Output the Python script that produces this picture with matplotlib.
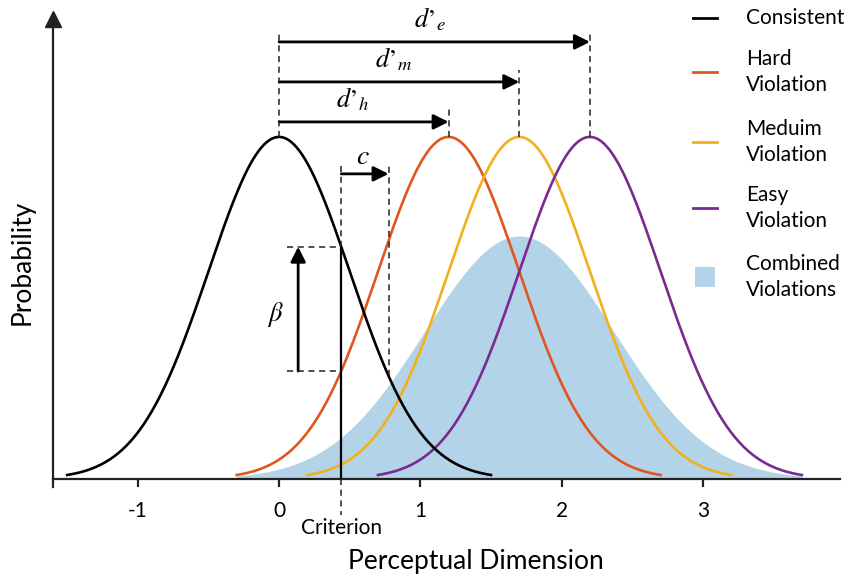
import numpy as np
import matplotlib
matplotlib.use("Agg")
import matplotlib.pyplot as plt
from matplotlib.lines import Line2D
from matplotlib.patches import Rectangle

plt.rcParams["font.family"] = ["Lato", "DejaVu Sans"]
plt.rcParams["mathtext.fontset"] = "stix"

# model parameters
SIGMA = 0.5
MU_CONSISTENT = 0.0
MU_VIOL = [1.2, 1.7, 2.2]          # hard, medium, easy
VIOL_LABELS = ["Hard\nViolation", "Meduim\nViolation", "Easy\nViolation"]
VIOL_COLORS = ["#E0561E", "#F2B01C", "#7B2B8F"]
D_LABELS = [r"$d’_{h}$", r"$d’_{m}$", r"$d’_{e}$"]
COMB_MU, COMB_SIGMA, COMB_PEAK = 1.7, 0.67, 0.71
CRITERION = 0.44
C_END = 0.775
XTICKS = [-1, 0, 1, 2, 3]
BLUE = "#B3D3E9"


def gauss(x, mu, sigma=SIGMA, peak=1.0):
    return peak * np.exp(-(x - mu) ** 2 / (2 * sigma ** 2))


def main() -> None:
    fig = plt.figure(figsize=(8.46, 5.75), dpi=100)
    ax = fig.add_axes([53 / 846, 88 / 575, 787 / 846, 468 / 575])
    xmin, xmax = -1.60, 3.97
    ax.set_xlim(xmin, xmax)
    ax.set_ylim(-0.024, 1.345)

    # combined violations
    xc = np.linspace(-0.3, 3.7, 500)
    ax.fill_between(xc, 0, gauss(xc, COMB_MU, COMB_SIGMA, COMB_PEAK),
                    color=BLUE, lw=0, zorder=1)

    for mu, col in zip(MU_VIOL, VIOL_COLORS):
        xs = np.linspace(mu - 1.5, mu + 1.5, 300)
        ax.plot(xs, gauss(xs, mu), color=col, lw=1.9, zorder=3)
    xs = np.linspace(MU_CONSISTENT - 1.5, MU_CONSISTENT + 1.5, 300)
    ax.plot(xs, gauss(xs, MU_CONSISTENT), color="black", lw=1.9, zorder=4)

    # spines / axes
    for s in ["top", "right"]:
        ax.spines[s].set_visible(False)
    ax.spines["bottom"].set_position(("data", 0))
    for s in ["bottom", "left"]:
        ax.spines[s].set_linewidth(1.6)
        ax.spines[s].set_color("#222222")
    ax.set_yticks([])
    ax.set_xticks(XTICKS)
    ax.set_xticklabels([str(t) for t in XTICKS])
    ax.tick_params(axis="x", direction="out", length=6, width=1.6, pad=10,
                   labelsize=15, color="#222222")
    ax.plot([xmin], [1.345], marker="^", ms=11, color="#222222", clip_on=False,
            zorder=6)

    dash = dict(color="#222222", lw=1.1, ls=(0, (4, 3)), zorder=5)
    arrow = dict(arrowstyle="-|>,head_length=0.9,head_width=0.45",
                 color="black", lw=2, shrinkA=0, shrinkB=0)

    # d' arrows
    tops = [1.082, 1.196, 1.31]
    arrow_y = [1.044, 1.161, 1.278]
    lab_x = [0.52, 0.81, 1.07]
    ax.plot([0, 0], [1.0, 1.31], **dash)
    for mu, top, ay, lx, lab in zip(MU_VIOL, tops, arrow_y, lab_x, D_LABELS):
        ax.plot([mu, mu], [1.0, top], **dash)
        ax.annotate("", xy=(mu, ay), xytext=(0, ay), arrowprops=arrow)
        ax.text(lx, ay + 0.065, lab, fontsize=19, ha="center", va="center")

    # criterion and c
    hb = gauss(CRITERION, MU_CONSISTENT)
    ho = gauss(CRITERION, MU_VIOL[0])
    ax.plot([CRITERION, CRITERION], [0, hb], color="black", lw=1.6, zorder=5)
    ax.plot([CRITERION, CRITERION], [hb, 0.921], **dash)
    ax.plot([CRITERION, CRITERION], [0, -0.105], clip_on=False, **dash)
    ax.plot([C_END, C_END], [gauss(C_END, MU_CONSISTENT), 0.921], **dash)
    ax.annotate("", xy=(C_END, 0.892), xytext=(CRITERION, 0.892), arrowprops=arrow)
    ax.text(0.595, 0.945, r"$c$", fontsize=20, ha="center", va="center")
    ax.text(CRITERION, -0.145, "Criterion", fontsize=15, ha="center", va="center")

    # beta
    ax.plot([0.057, CRITERION], [hb, hb], **dash)
    ax.plot([0.057, CRITERION], [ho, ho], **dash)
    ax.annotate("", xy=(0.135, hb), xytext=(0.135, ho), arrowprops=arrow)
    ax.text(-0.03, 0.48, r"$\beta$", fontsize=19, ha="center", va="center")

    fig.text(476 / 846, 1 - 562 / 575, "Perceptual Dimension", fontsize=19,
             ha="center", va="center")
    fig.text(22 / 846, 1 - 262 / 575, "Probability", fontsize=19, rotation=90,
             ha="center", va="center")

    # legend drawn by hand so two-line labels sit centred on their handles
    names = ["Consistent"] + VIOL_LABELS + ["Combined\nViolations"]
    colors = ["black"] + VIOL_COLORS + [BLUE]
    ys = [18, 72, 142, 208, 277]
    for i, (name, col, y) in enumerate(zip(names, colors, ys)):
        yf = 1 - y / 575
        if i < 4:
            fig.add_artist(Line2D([693 / 846, 717 / 846], [yf, yf], color=col, lw=2))
        else:
            fig.add_artist(Rectangle((695 / 846, yf - 10 / 575), 20 / 846, 20 / 575,
                                     color=col, lw=0))
        fig.text(746 / 846, yf, name, fontsize=15, ha="left", va="center",
                 linespacing=1.35)

    fig.savefig("out.png", dpi=100)


if __name__ == "__main__":
    main()
